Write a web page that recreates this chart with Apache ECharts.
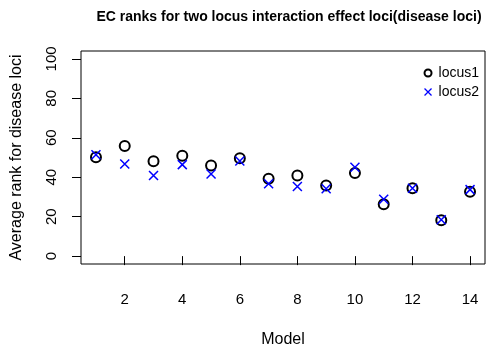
<!DOCTYPE html>
<html>
<head>
<meta charset="utf-8">
<script src="https://cdn.jsdelivr.net/npm/echarts@6/dist/echarts.min.js"></script>
<style>
  html, body { margin: 0; padding: 0; background: #fff; }
  #chart { width: 490px; height: 353px; }
</style>
</head>
<body>
<div id="chart"></div>
<script>
const models = [1, 2, 3, 4, 5, 6, 7, 8, 9, 10, 11, 12, 13, 14]
const locus1 = [50.1, 55.8, 48.1, 50.9, 45.9, 49.6, 39.2, 40.9, 35.8, 42.2, 26.3, 34.4, 18.2, 32.6]
const locus2 = [51.4, 46.7, 40.9, 46.4, 41.6, 48.2, 36.7, 35.3, 34.2, 45.1, 28.8, 34.4, 18.4, 33.7]
const xTicks = [2, 4, 6, 8, 10, 12, 14]
const yTicks = [0, 20, 40, 60, 80, 100]

const font = '"Liberation Sans", Arial, sans-serif'
const crossPath = 'path://M0,0L10,10M10,0L0,10'

const chart = echarts.init(document.getElementById('chart'))

const option = {
  animation: false,
  title: {
    text: 'EC ranks for two locus interaction effect loci(disease loci)',
    left: 284,
    top: 5,
    textAlign: 'center',
    textStyle: { fontFamily: font, fontSize: 14, fontWeight: 'bold', color: '#000' }
  },
  legend: {
    right: 6,
    top: 61,
    orient: 'vertical',
    itemGap: 5,
    itemWidth: 7,
    itemHeight: 7,
    textStyle: { fontFamily: font, fontSize: 14, color: '#000', padding: [0, 0, 0, 2] },
    data: [
      { name: 'locus1', icon: 'emptyCircle', itemStyle: { color: '#000', borderColor: '#000', borderWidth: 1.3 } },
      { name: 'locus2', icon: crossPath, itemStyle: { color: 'none', borderColor: '#0000ff', borderWidth: 1.3 } }
    ]
  },
  grid: {
    left: 81, right: 5, top: 51, bottom: 87,
    show: true,
    borderColor: '#000',
    borderWidth: 1
  },
  xAxis: {
    type: 'value',
    min: 0.48,
    max: 14.52,
    name: 'Model',
    nameLocation: 'middle',
    nameGap: 68,
    nameTextStyle: { fontFamily: font, fontSize: 16, color: '#000' },
    splitLine: { show: false },
    axisLine: { show: false },
    axisTick: { show: true, length: 9, customValues: xTicks, lineStyle: { color: '#000' } },
    axisLabel: { customValues: xTicks, margin: 28, fontFamily: font, fontSize: 15, color: '#000' }
  },
  yAxis: {
    type: 'value',
    min: -4,
    max: 104,
    name: 'Average rank for disease loci',
    nameLocation: 'middle',
    nameRotate: 90,
    nameGap: 56,
    nameTextStyle: { fontFamily: font, fontSize: 16, color: '#000' },
    splitLine: { show: false },
    axisLine: { show: false },
    axisTick: { show: true, length: 9, customValues: yTicks, lineStyle: { color: '#000' } },
    axisLabel: { customValues: yTicks, rotate: 90, margin: 22, fontFamily: font, fontSize: 15, color: '#000' }
  },
  series: [
    {
      name: 'locus1',
      type: 'scatter',
      symbol: 'emptyCircle',
      symbolSize: 10,
      itemStyle: { color: '#000', borderColor: '#000', borderWidth: 1.2, opacity: 1 },
      data: models.map((m, i) => [m, locus1[i]])
    },
    {
      name: 'locus2',
      type: 'scatter',
      symbol: crossPath,
      symbolSize: 9,
      itemStyle: { color: 'none', borderColor: '#0000ff', borderWidth: 1.5, opacity: 1 },
      data: models.map((m, i) => [m, locus2[i]])
    }
  ]
}

chart.setOption(option)
</script>
</body>
</html>
